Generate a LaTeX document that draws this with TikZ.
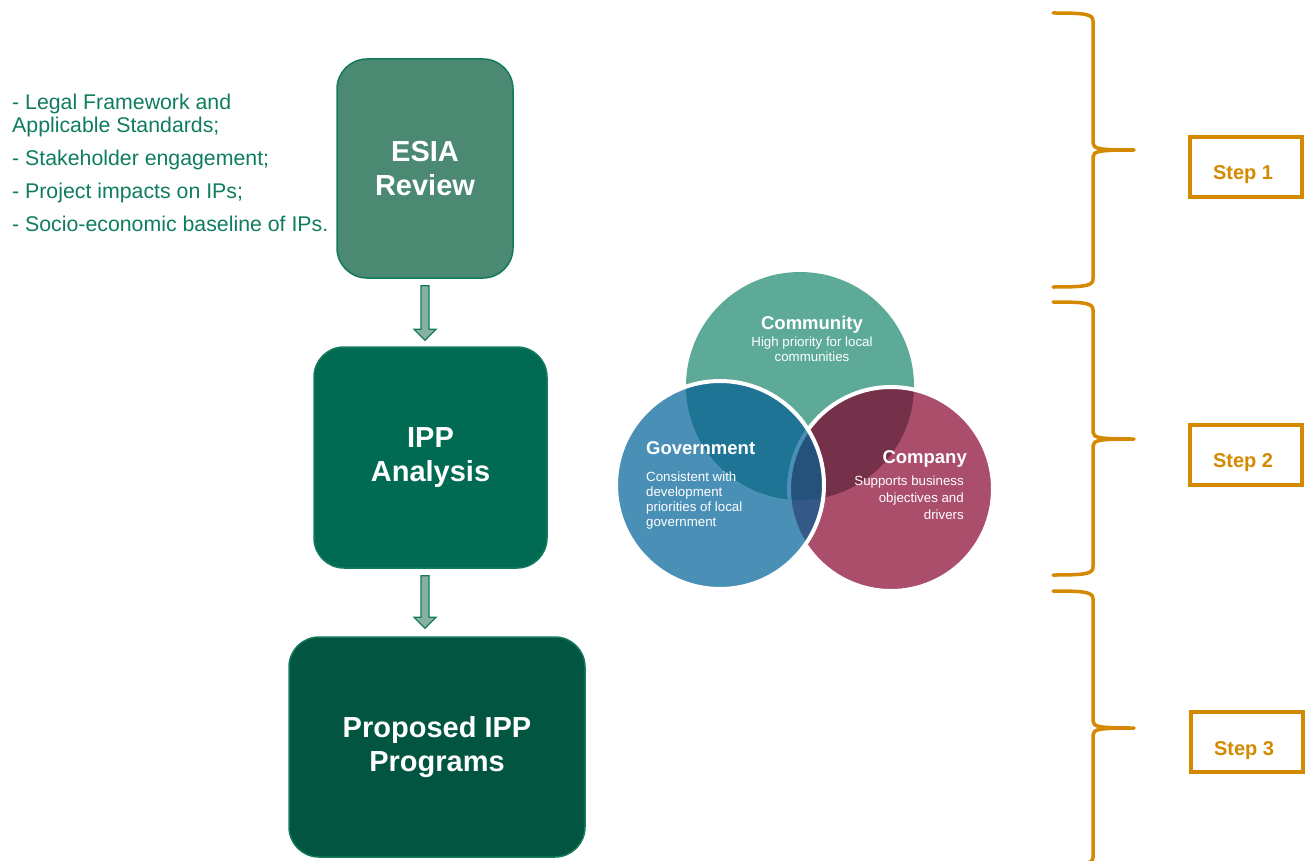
\documentclass[tikz,border=0pt]{standalone}
\usepackage{fontspec}
\setmainfont{Liberation Sans}
\usepackage{xcolor}
\definecolor{EsiaCol}{RGB}{75,137,114}
\definecolor{IppCol}{RGB}{0,107,82}
\definecolor{ProgCol}{RGB}{2,85,64}
\definecolor{BoxLine}{RGB}{20,122,92}
\definecolor{ListCol}{RGB}{14,124,94}
\definecolor{ArrowCol}{RGB}{138,176,160}
\definecolor{StepCol}{RGB}{212,137,0}
\definecolor{CommCol}{RGB}{93,170,153}
\definecolor{GovCol}{RGB}{74,144,182}
\definecolor{CompCol}{RGB}{170,78,107}
\definecolor{GovCommCol}{RGB}{30,116,148}
\definecolor{CompCommCol}{RGB}{117,48,74}
\definecolor{GovCompCol}{RGB}{52,88,135}
\definecolor{AllCol}{RGB}{36,82,122}
\usepackage{tikz}
\usetikzlibrary{calc}
\tikzstyle{Box}=[rounded corners=30pt,draw=BoxLine,line width=1.5pt,
text=white,font=\fontsize{29}{34}\selectfont\bfseries,align=center,inner sep=0pt]
\tikzstyle{ListText}=[anchor=base west,inner sep=0pt,text=ListCol,
font=\fontsize{21.3}{23}\selectfont]
\tikzstyle{FlowArrow}=[draw=BoxLine,fill=ArrowCol,line width=1.2pt,line join=miter]
\tikzstyle{StepBox}=[draw=StepCol,line width=4pt,minimum width=112pt,
minimum height=60pt,inner sep=0pt]
\tikzstyle{StepText}=[anchor=base,inner sep=0pt,text=StepCol,
font=\fontsize{20}{24}\selectfont\bfseries]
\tikzstyle{Brace}=[draw=StepCol,line width=3.5pt,line cap=round,line join=round]
\tikzstyle{VennTitle}=[inner sep=0pt,text=white,font=\fontsize{18.5}{22}\selectfont\bfseries]
\tikzstyle{VennText}=[inner sep=0pt,text=white,font=\fontsize{13.3}{15}\selectfont]
\def\CommunityCircle{(800,386) circle[radius=114pt]}
\def\GovCircle{(720,485) circle[radius=104pt]}
\def\CompanyCircle{(891,489) circle[radius=102pt]}
\newcommand{\StepBrace}[3]{%
  \draw[Brace] (1053,#1) .. controls (1085,#1) and (1093,#1+1) .. (1093,#1+8)
    -- (1093,#2-7) .. controls (1093,#2-1) and (1100,#2) .. (1134,#2)
    .. controls (1100,#2) and (1093,#2+1) .. (1093,#2+7)
    -- (1093,#3-8) .. controls (1093,#3-1) and (1085,#3) .. (1053,#3);}

\begin{document}
\begin{tikzpicture}[x=1pt,y=-1pt]
    \useasboundingbox (0,0) rectangle (1311,861);
        \node[ListText](l1)at(12,110){- Legal Framework and};
        \node[ListText](l1b)at(12,133){Applicable Standards;};
        \node[ListText](l2)at(12,166){- Stakeholder engagement;};
        \node[ListText](l3)at(12,199){- Project impacts on IPs;};
        \node[ListText](l4)at(12,231){- Socio-economic baseline of IPs.};
        \node[Box,fill=EsiaCol,minimum width=176pt,minimum height=219pt]
            (esia)at(425,168.5){ESIA\\Review};
        \node[Box,fill=IppCol,minimum width=233pt,minimum height=221pt]
            (ipp)at(430.5,457.5){IPP\\Analysis};
        \node[Box,fill=ProgCol,minimum width=296pt,minimum height=220pt]
            (programs)at(437,747){Proposed IPP\\Programs};
        \draw[FlowArrow]($(esia.south)+(-4,7)$)--($(esia.south)+(4,7)$)
            --($(esia.south|-ipp.north)+(4,-17)$)--($(esia.south|-ipp.north)+(11,-17)$)
            --($(esia.south|-ipp.north)+(0,-6)$)--($(esia.south|-ipp.north)+(-11,-17)$)
            --($(esia.south|-ipp.north)+(-4,-17)$)--cycle;
        \draw[FlowArrow]($(ipp.south-|esia.south)+(-4,7)$)--($(ipp.south-|esia.south)+(4,7)$)
            --($(esia.south|-programs.north)+(4,-19)$)--($(esia.south|-programs.north)+(11,-19)$)
            --($(esia.south|-programs.north)+(0,-8)$)--($(esia.south|-programs.north)+(-11,-19)$)
            --($(esia.south|-programs.north)+(-4,-19)$)--cycle;
        \fill[CommCol]\CommunityCircle;
        \fill[CompCol]\CompanyCircle;
        \begin{scope}
            \clip\CompanyCircle;
            \fill[CompCommCol]\CommunityCircle;
        \end{scope}
        \draw[white,line width=4pt]\CompanyCircle;
        \fill[GovCol]\GovCircle;
        \begin{scope}
            \clip\GovCircle;
            \fill[GovCommCol]\CommunityCircle;
            \fill[GovCompCol]\CompanyCircle;
            \begin{scope}
                \clip\CompanyCircle;
                \fill[AllCol]\CommunityCircle;
            \end{scope}
            \draw[GovCol,line width=4pt]\CompanyCircle;
        \end{scope}
        \draw[white,line width=4pt]\GovCircle;
        \node[VennTitle,anchor=base](commtitle)at(812,329){Community};
        \node[VennText,anchor=base,align=center](commtext)at(812,361)
            {High priority for local\\communities};
        \node[VennTitle,anchor=base west](govtitle)at(646,454){Government};
        \node[VennText,anchor=base west,align=left](govtext)at(646,526)
            {Consistent with\\development\\priorities of local\\government};
        \node[VennTitle,anchor=base east](comptitle)at(967,463){Company};
        \node[VennText,anchor=base east,align=right,font=\fontsize{13.3}{17}\selectfont]
            (comptext)at(964,519){Supports business\\objectives and\\drivers};
        \StepBrace{13}{150}{287}
        \StepBrace{302}{439}{575}
        \StepBrace{591}{728}{865}
        \node[StepBox](step1)at(1246,167){};
        \node[StepBox](step2)at(1246,454.5){};
        \node[StepBox](step3)at(1247,742){};
        \node[StepText]at($(step1.center)+(-3,13)$){Step 1};
        \node[StepText]at($(step2.center)+(-3,12.5)$){Step 2};
        \node[StepText]at($(step3.center)+(-3,13)$){Step 3};
    \end{tikzpicture}
\end{document}
